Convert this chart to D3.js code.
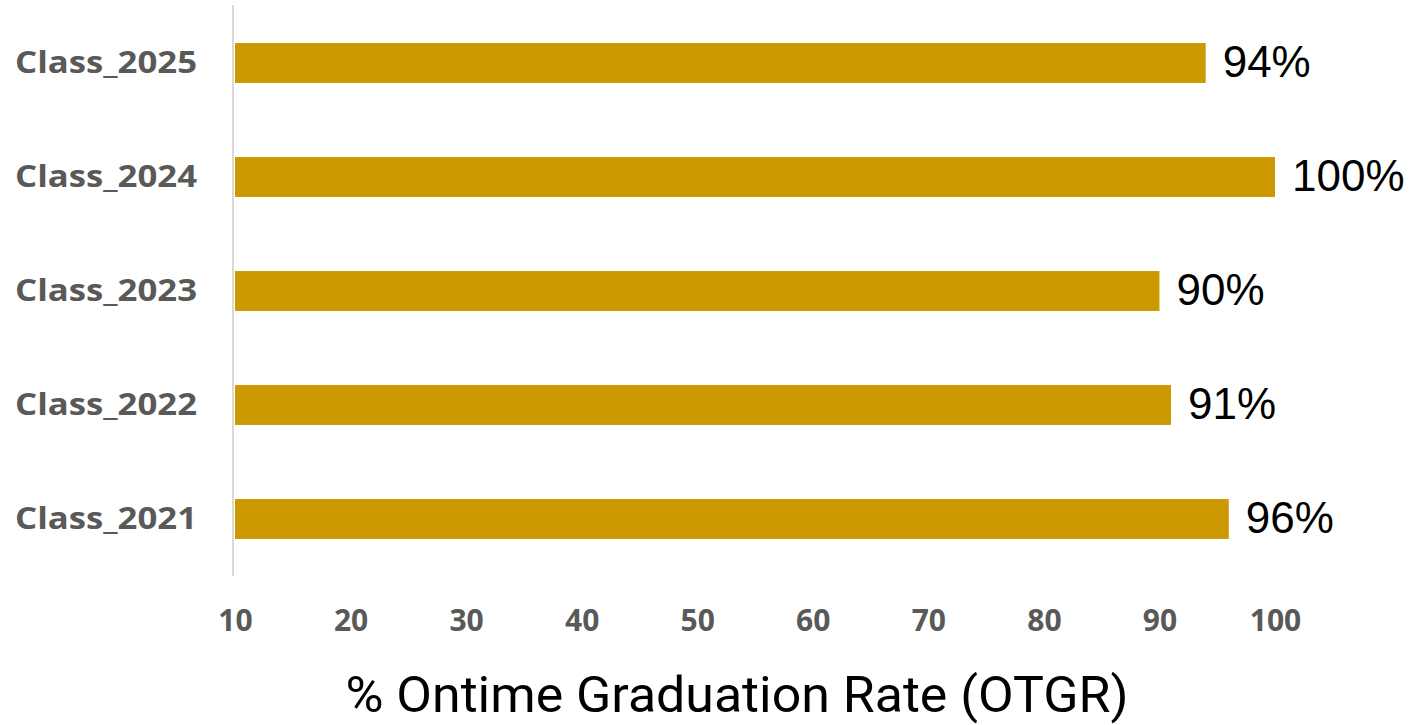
<!DOCTYPE html>
<html>
<head>
<meta charset="utf-8">
<script src="https://cdn.jsdelivr.net/npm/d3@7"></script>
<style>
  body { margin: 0; background: #fff; }
</style>
</head>
<body>
<div id="chart"></div>
<script>
// data
var classes = ["Class_2025", "Class_2024", "Class_2023", "Class_2022", "Class_2021"];
var rates = [94, 100, 90, 91, 96];
var xTicks = [10, 20, 30, 40, 50, 60, 70, 80, 90, 100];
var xTitle = "% Ontime Graduation Rate (OTGR)";

var W = 1411, H = 725;

var svg = d3.select("#chart")
    .append("svg")
    .attr("width", W)
    .attr("height", H);

// scales
var x = d3.scaleLinear()
    .domain([10, 100])
    .range([235, 1275]);

var y = d3.scaleBand()
    .domain(classes)
    .range([6, 576])
    .paddingInner(0.65)
    .paddingOuter(0.325);

// bars
svg.selectAll("rect.bar")
    .data(classes)
    .enter()
    .append("rect")
    .attr("class", "bar")
    .attr("x", x(10))
    .attr("y", function(d) { return y(d); })
    .attr("width", function(d, i) { return x(rates[i]) - x(10); })
    .attr("height", y.bandwidth())
    .style("fill", "#CC9900");

// value labels
svg.selectAll("text.val")
    .data(classes)
    .enter()
    .append("text")
    .attr("class", "val")
    .attr("x", function(d, i) { return x(rates[i]) + 17; })
    .attr("y", function(d) { return y(d) + y.bandwidth() / 2 + 14; })
    .style("font-family", "'Liberation Sans', Arial, sans-serif")
    .style("font-size", "44px")
    .style("fill", "#000")
    .text(function(d, i) { return rates[i] + "%"; });

// y axis (category labels + light vertical line)
var yAxis = svg.append("g")
    .attr("transform", "translate(233,0)")
    .call(d3.axisLeft(y).tickSize(0).tickPadding(36));
yAxis.select(".domain").remove();
yAxis.selectAll("text")
    .attr("textLength", 182)
    .attr("lengthAdjust", "spacingAndGlyphs")
    .style("font-family", "'Open Sans', sans-serif")
    .style("font-weight", "bold")
    .style("font-size", "30px")
    .style("fill", "#595959");

svg.append("line")
    .attr("x1", 233).attr("x2", 233)
    .attr("y1", 5).attr("y2", 576)
    .style("stroke", "#d9d9d9")
    .style("stroke-width", 2);

// x axis (labels only)
var xAxis = svg.append("g")
    .attr("transform", "translate(0,602)")
    .call(d3.axisBottom(x).tickValues(xTicks).tickSize(0).tickPadding(8));
xAxis.select(".domain").remove();
xAxis.selectAll("text")
    .style("font-family", "'Open Sans', sans-serif")
    .style("font-weight", "bold")
    .style("font-size", "30px")
    .style("fill", "#595959");

// axis title
svg.append("text")
    .attr("x", 737)
    .attr("y", 712)
    .attr("text-anchor", "middle")
    .attr("textLength", 783)
    .attr("lengthAdjust", "spacingAndGlyphs")
    .style("font-family", "Roboto, sans-serif")
    .style("font-size", "50px")
    .style("fill", "#000")
    .text(xTitle);
</script>
</body>
</html>
